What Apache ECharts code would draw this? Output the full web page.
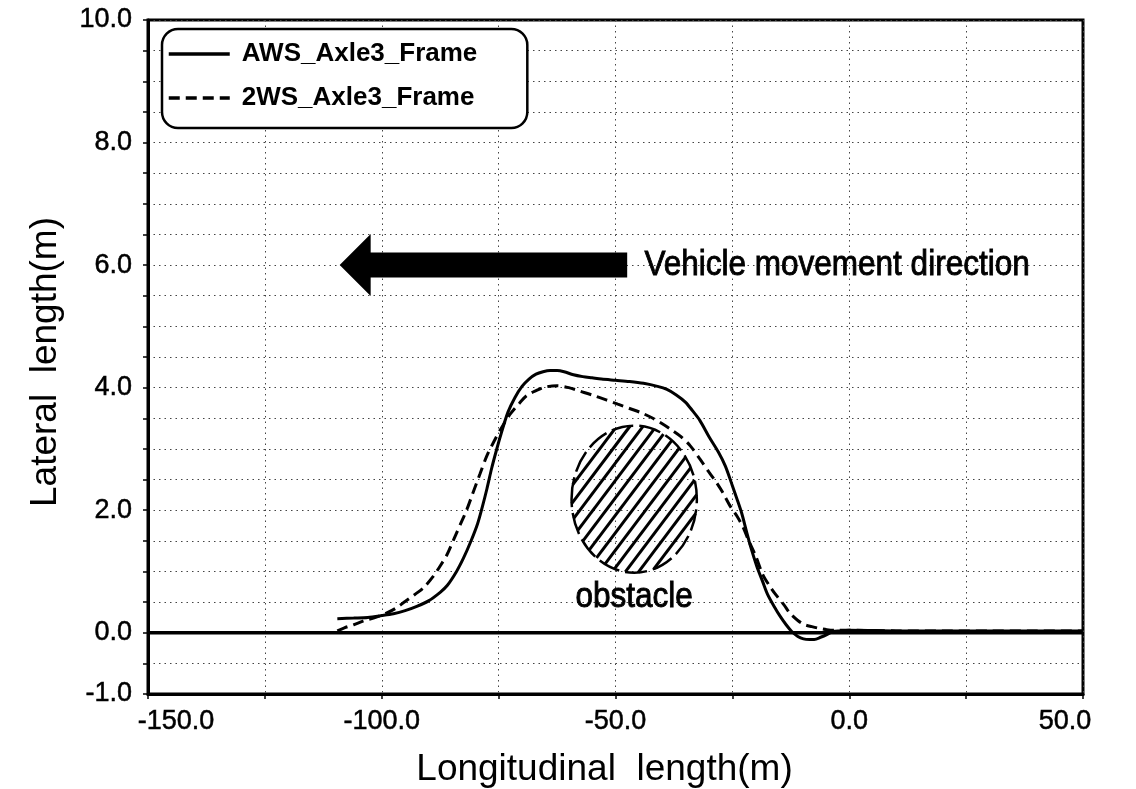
<!DOCTYPE html>
<html>
<head>
<meta charset="utf-8">
<title>Lateral trajectory of axle 3 frame</title>
<script src="https://cdn.jsdelivr.net/npm/echarts@6/dist/echarts.min.js"></script>
<style>
  html, body { margin: 0; padding: 0; background: #fff; }
  #chart { width: 1136px; height: 789px; }
</style>
</head>
<body>
<div id="chart"></div>
<script>
// Longitudinal position (m) and lateral offset (m) of the third-axle frame
const awsX = [-109.5, -106, -103, -100, -97.5, -95, -92.5, -90, -87.5, -86, -84, -82.5, -81, -79.5,
  -78.5, -77.5, -76.5, -75.5, -74.5, -73, -71.5, -70, -68.5, -67, -65.5, -64, -62.5, -61, -59, -57,
  -55, -53, -50, -47, -44, -41, -39, -37, -35, -33.5, -32, -30, -28, -26.5, -25, -24, -23, -22, -21,
  -19.8, -18.5, -17.5, -16, -14.8, -13.5, -12.3, -11, -9.8, -8.5, -7.5, -6, -4.8, -3.5, -2, 0, 10,
  20, 30, 40, 50];
const awsY = [0.23, 0.24, 0.25, 0.28, 0.31, 0.36, 0.43, 0.52, 0.66, 0.77, 1.0, 1.22, 1.48, 1.78,
  2.05, 2.35, 2.68, 2.97, 3.24, 3.6, 3.84, 4.02, 4.14, 4.22, 4.26, 4.28, 4.28, 4.26, 4.21, 4.18,
  4.16, 4.14, 4.12, 4.10, 4.07, 4.02, 3.97, 3.88, 3.76, 3.62, 3.47, 3.2, 2.95, 2.72, 2.4, 2.18, 1.95,
  1.66, 1.38, 1.09, 0.83, 0.63, 0.42, 0.27, 0.13, 0.02, -0.06, -0.10, -0.11, -0.11, -0.07, -0.03,
  0.02, 0.03, 0.04, 0.03, 0.03, 0.03, 0.03, 0.03];

const twsX = [-109.5, -108, -106, -104, -101, -99, -97, -95, -93, -91, -89, -87.5, -86, -84.5, -83,
  -81.8, -80.5, -79, -77.5, -76, -74.5, -72.5, -70.5, -69, -67, -65, -62.5, -60, -57.5, -55, -52,
  -49.5, -47, -44.5, -42, -40, -38, -36, -34, -32, -30, -28.4, -27, -25.5, -24, -22.7, -21.5, -20,
  -18.5, -17, -15.5, -14, -12.7, -11, -9.5, -8, -6.3, -4.8, -3, 0, 10, 20, 30, 40, 50];
const twsY = [0.03, 0.08, 0.13, 0.19, 0.26, 0.32, 0.40, 0.51, 0.62, 0.74, 0.92, 1.09, 1.28, 1.54,
  1.80, 2.01, 2.28, 2.59, 2.89, 3.12, 3.33, 3.57, 3.75, 3.87, 3.95, 4.01, 4.03, 4.0, 3.94, 3.88, 3.80,
  3.73, 3.66, 3.59, 3.50, 3.41, 3.31, 3.2, 3.05, 2.84, 2.62, 2.45, 2.28, 2.07, 1.90, 1.72, 1.5, 1.25,
  0.95, 0.76, 0.60, 0.46, 0.32, 0.2, 0.13, 0.1, 0.07, 0.05, 0.04, 0.04, 0.03, 0.03, 0.03, 0.03, 0.03];

// Road reference line (lateral 0)
const refX = [-150, 50];
const refY = [0, 0];

// Obstacle: centre (m, m) and semi-axes (m, m)
const obstacle = [-46, 2.18, 13.4, 1.2];
const obstacleLabel = [-46, 0.57];

// Movement-direction arrow: tip and tail (m, m)
const arrowTip = [-109, 6.0];
const arrowTail = [-47.5, 6.0];
const arrowLabel = [-43.8, 6.0];

const seriesNames = ['AWS_Axle3_Frame', '2WS_Axle3_Frame'];
const xTickLabels = [-150, -100, -50, 0, 50];
const yTickLabels = [-1, 0, 2, 4, 6, 8, 10];

const FONT = '"Liberation Sans", Arial, Helvetica, sans-serif';

function pairs(xs, ys) { return xs.map((x, i) => [x, ys[i]]); }

function renderObstacle(params, api) {
  const c = api.coord([api.value(0), api.value(1)]);
  const s = api.size([api.value(2), api.value(3)]);
  const cx = c[0], cy = c[1], rx = s[0], ry = s[1];
  const children = [];
  // diagonal hatching, lines running lower-left to upper-right
  const a = 53 * Math.PI / 180;
  const dx = Math.cos(a), dy = -Math.sin(a);
  const nx = Math.sin(a), ny = Math.cos(a);
  const step = 10.5;
  const R = Math.max(rx, ry);
  for (let t = -R + step / 2; t <= R; t += step) {
    const ox = t * nx, oy = t * ny;
    const A = dx * dx / (rx * rx) + dy * dy / (ry * ry);
    const B = 2 * (ox * dx / (rx * rx) + oy * dy / (ry * ry));
    const C = ox * ox / (rx * rx) + oy * oy / (ry * ry) - 1;
    const disc = B * B - 4 * A * C;
    if (disc <= 0) continue;
    const u1 = (-B - Math.sqrt(disc)) / (2 * A);
    const u2 = (-B + Math.sqrt(disc)) / (2 * A);
    children.push({
      type: 'line',
      shape: { x1: cx + ox + u1 * dx, y1: cy + oy + u1 * dy, x2: cx + ox + u2 * dx, y2: cy + oy + u2 * dy },
      style: { stroke: '#000', lineWidth: 3 }
    });
  }
  children.push({
    type: 'ellipse',
    shape: { cx: cx, cy: cy, rx: rx, ry: ry },
    style: { fill: null, stroke: '#000', lineWidth: 2.5, lineDash: [22, 6] }
  });
  return { type: 'group', children: children };
}

function renderArrow(params, api) {
  const tip = api.coord([api.value(0), api.value(1)]);
  const tail = api.coord([api.value(2), api.value(3)]);
  const headLen = 31, headHalf = 31, shaftHalf = 12.5;
  const y = tip[1];
  const hb = tip[0] + headLen;
  return {
    type: 'polygon',
    shape: {
      points: [
        [tip[0], y], [hb, y - headHalf], [hb, y - shaftHalf], [tail[0], y - shaftHalf],
        [tail[0], y + shaftHalf], [hb, y + shaftHalf], [hb, y + headHalf]
      ]
    },
    style: { fill: '#000' }
  };
}

function textRenderer(align) {
  return function (params, api) {
    const p = api.coord([api.value(0), api.value(1)]);
    return {
      type: 'text',
      x: p[0], y: p[1],
      scaleX: 0.9,
      style: {
        text: api.value(2),
        font: '35px ' + FONT,
        fill: '#000',
        stroke: '#000',
        lineWidth: 0.9,
        align: align,
        verticalAlign: 'middle'
      }
    };
  };
}

const chart = echarts.init(document.getElementById('chart'), null, { renderer: 'canvas' });

const gridLine = { show: true, lineStyle: { color: '#444', type: [1.5, 4], width: 1 } };
const tickFont = { fontFamily: FONT, fontSize: 27, color: '#000', textBorderColor: '#000', textBorderWidth: 0.5 };

const option = {
  backgroundColor: '#fff',
  animation: false,
  grid: {
    left: 148, right: 53, top: 20, bottom: 95,
    containLabel: false, outerBoundsMode: 'none',
    show: true, borderColor: '#000', borderWidth: 3, backgroundColor: 'transparent'
  },
  legend: {
    data: seriesNames,
    orient: 'vertical',
    left: 162, top: 29,
    padding: [12, 50, 17, 5],
    itemGap: 18,
    itemWidth: 61, itemHeight: 20,
    borderColor: '#000', borderWidth: 2.5, borderRadius: 16,
    backgroundColor: '#fff',
    itemStyle: { opacity: 0 },
    lineStyle: { width: 3.5 },
    textStyle: { fontFamily: FONT, fontSize: 26, fontWeight: 'bold', color: '#000', lineHeight: 26, padding: [0, 0, 0, 7] }
  },
  xAxis: {
    type: 'value', min: -150, max: 50, interval: 25,
    name: 'Longitudinal  length(m)', nameLocation: 'middle', nameGap: 57,
    nameTextStyle: { fontFamily: FONT, fontSize: 37, color: '#000', padding: [0, 22, 0, 0] },
    axisLine: { show: true, onZero: false, lineStyle: { color: '#000', width: 3 } },
    axisTick: { show: true, length: 5, lineStyle: { color: '#000', width: 1.5 } },
    splitLine: gridLine,
    axisLabel: Object.assign({
      margin: 14,
      showMinLabel: true, showMaxLabel: true,
      formatter: function (v) {
        if (xTickLabels.indexOf(v) < 0) return '';
        if (v === xTickLabels[0]) return '{l|' + v.toFixed(1) + '}';
        if (v === xTickLabels[xTickLabels.length - 1]) return '{r|' + v.toFixed(1) + '}';
        return v.toFixed(1);
      },
      rich: {
        l: Object.assign({ padding: [0, 0, 0, 56] }, tickFont),
        r: Object.assign({ padding: [0, 36, 0, 0] }, tickFont)
      }
    }, tickFont)
  },
  yAxis: {
    type: 'value', min: -1, max: 10, interval: 0.5,
    name: 'Lateral  length(m)', nameLocation: 'middle', nameGap: 84,
    nameTextStyle: { fontFamily: FONT, fontSize: 37, color: '#000', padding: [0, 10, 0, 0] },
    axisLine: { show: true, onZero: false, lineStyle: { color: '#000', width: 3 } },
    axisTick: { show: true, length: 5, lineStyle: { color: '#000', width: 1.5 } },
    splitLine: gridLine,
    axisLabel: Object.assign({
      margin: 16,
      showMinLabel: true, showMaxLabel: true,
      formatter: function (v) {
        for (const t of yTickLabels) if (Math.abs(v - t) < 1e-9) return t.toFixed(1);
        return '';
      }
    }, tickFont)
  },
  series: [
    {
      type: 'custom', name: 'obstacle', coordinateSystem: 'cartesian2d', silent: true, z: 1,
      renderItem: renderObstacle, encode: { x: 0, y: 1 },
      data: [obstacle]
    },
    {
      type: 'custom', name: 'direction', coordinateSystem: 'cartesian2d', silent: true, z: 1,
      renderItem: renderArrow, encode: { x: [0, 2], y: [1, 3] },
      data: [[arrowTip[0], arrowTip[1], arrowTail[0], arrowTail[1]]]
    },
    {
      type: 'custom', name: 'labels-left', coordinateSystem: 'cartesian2d', silent: true, z: 3,
      renderItem: textRenderer('left'), encode: { x: 0, y: 1 },
      data: [[arrowLabel[0], arrowLabel[1], 'Vehicle movement direction']]
    },
    {
      type: 'custom', name: 'labels-center', coordinateSystem: 'cartesian2d', silent: true, z: 3,
      renderItem: textRenderer('center'), encode: { x: 0, y: 1 },
      data: [[obstacleLabel[0], obstacleLabel[1], 'obstacle']]
    },
    {
      type: 'line', name: 'reference', silent: true, z: 2,
      data: pairs(refX, refY), symbol: 'none',
      lineStyle: { color: '#000', width: 3.5 }
    },
    {
      type: 'line', name: seriesNames[0], z: 4,
      data: pairs(awsX, awsY), symbol: 'none', smooth: 0.3,
      lineStyle: { color: '#000', width: 3 }, itemStyle: { color: '#000' }
    },
    {
      type: 'line', name: seriesNames[1], z: 4,
      data: pairs(twsX, twsY), symbol: 'none', smooth: 0.3,
      lineStyle: { color: '#000', width: 3, type: [11, 6] }, itemStyle: { color: '#000' }
    }
  ]
};

chart.setOption(option);
</script>
</body>
</html>
